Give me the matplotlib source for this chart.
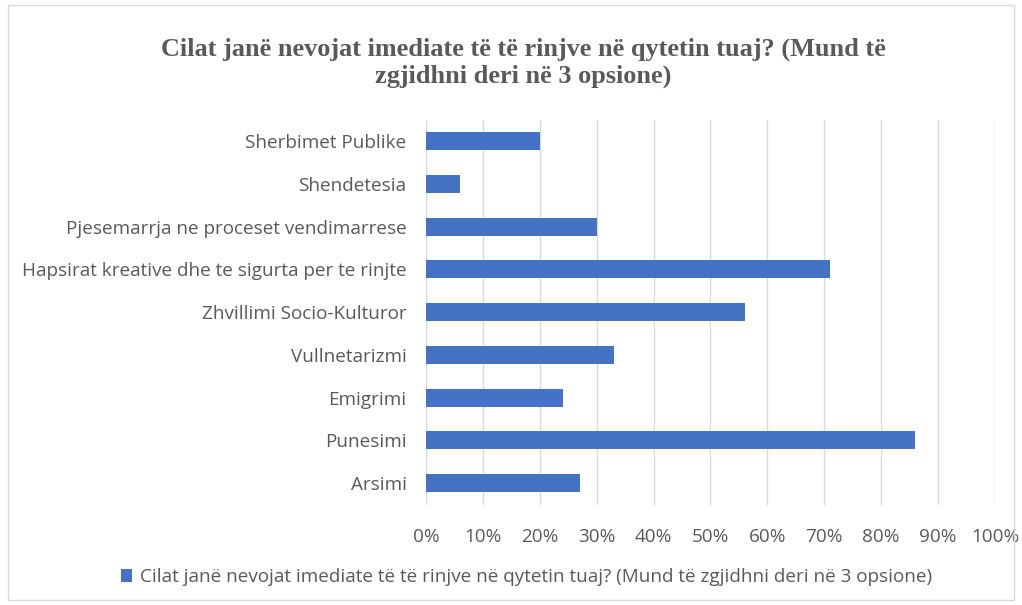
import matplotlib
matplotlib.use("Agg")
import matplotlib.pyplot as plt
from matplotlib.patches import Rectangle
from matplotlib.ticker import PercentFormatter

categories = ["Sherbimet Publike", "Shendetesia", "Pjesemarrja ne proceset vendimarrese",
              "Hapsirat kreative dhe te sigurta per te rinjte", "Zhvillimi Socio-Kulturor",
              "Vullnetarizmi", "Emigrimi", "Punesimi", "Arsimi"]
values = [20, 6, 30, 71, 56, 33, 24, 86, 27]
xticks = [0, 10, 20, 30, 40, 50, 60, 70, 80, 90, 100]
title = "Cilat janë nevojat imediate të të rinjve në qytetin tuaj? (Mund të\nzgjidhni deri në 3 opsione)"
legend_label = "Cilat janë nevojat imediate të të rinjve në qytetin tuaj? (Mund të zgjidhni deri në 3 opsione)"

text_color = "#595959"
bar_color = "#4472C4"
fs = 13.6

fig = plt.figure(figsize=(10.22, 6.05), dpi=100)
ax = fig.add_axes([0.4168, 0.166, 0.5568, 0.6363])

ypos = list(range(len(categories)))
bars = ax.barh(ypos, values, height=0.42, color=bar_color, zorder=3, label=legend_label)
ax.set_yticks(ypos)
ax.set_yticklabels(categories)
ax.set_ylim(len(categories) - 0.5, -0.5)
ax.set_xlim(0, 100)
ax.set_xticks(xticks)
ax.xaxis.set_major_formatter(PercentFormatter(decimals=0))
ax.grid(axis="x", color="#D9D9D9", linewidth=1, zorder=0)
for s in ax.spines.values():
    s.set_visible(False)
ax.tick_params(axis="both", length=0, colors=text_color, labelsize=fs)
ax.tick_params(axis="x", pad=17)
ax.tick_params(axis="y", pad=14)
for lbl in ax.get_xticklabels() + ax.get_yticklabels():
    lbl.set_fontfamily("Open Sans")

fig.text(0.512, 0.8967, title, ha="center", va="center", fontsize=18.9, fontweight="bold",
         family="Liberation Serif", color=text_color, linespacing=1.18)

leg = fig.legend(handles=[bars], labels=[legend_label], loc="center", bbox_to_anchor=(0.515, 0.046),
                 frameon=False, handlelength=0.6, handleheight=0.7, handletextpad=0.4,
                 prop={"family": "Open Sans", "size": fs})
for t in leg.get_texts():
    t.set_color(text_color)

fig.patches.append(Rectangle((0.008, 0.008), 0.984, 0.984, transform=fig.transFigure,
                             fill=False, edgecolor="#D9D9D9", linewidth=1))

fig.savefig("out.png", dpi=100)
